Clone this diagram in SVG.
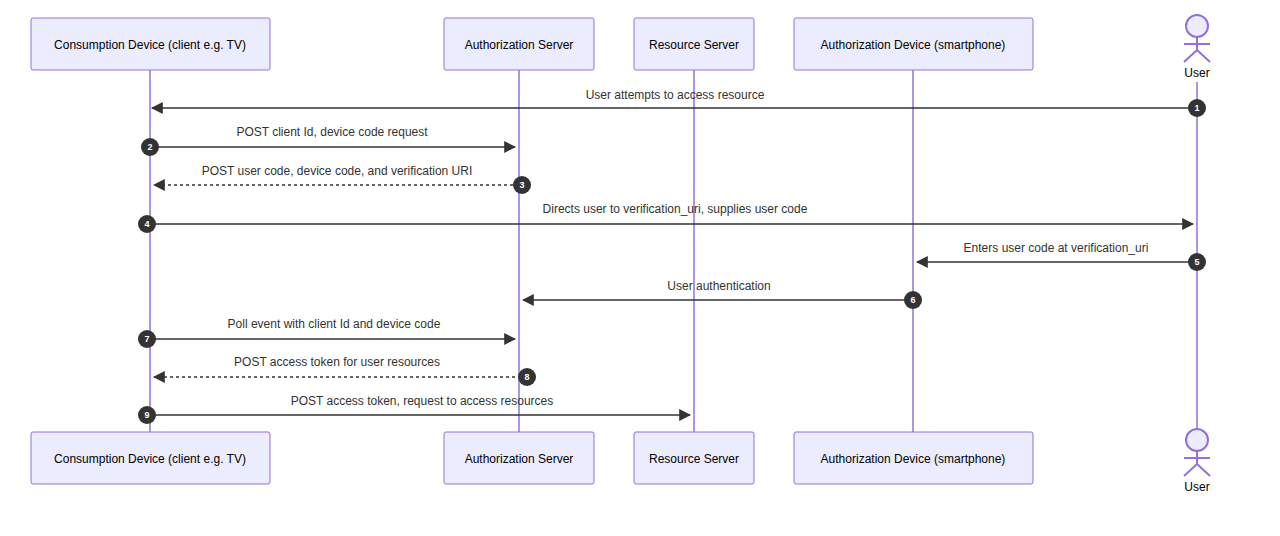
<svg xmlns="http://www.w3.org/2000/svg" width="1280" height="536" viewBox="0 0 1280 536">
<style>
.box{fill:#ECECFF;stroke:#9370DB;stroke-width:1}
.life{stroke:#9370DB;stroke-width:1.5}
.t{font-family:"Liberation Sans",Arial,sans-serif;font-size:12px;fill:#000;text-anchor:middle}
.ml{font-family:"Liberation Sans",Arial,sans-serif;font-size:12px;fill:#333;text-anchor:middle}
.msg{stroke:#333;stroke-width:1.5;fill:none}
.dash{stroke-dasharray:3,3}
.num{fill:#333}
.nt{font-family:"Liberation Sans",Arial,sans-serif;font-size:9px;font-weight:bold;fill:#fff;text-anchor:middle}
.act{fill:#ECECFF;stroke:#9370DB;stroke-width:2}
.actl{stroke:#9370DB;stroke-width:2;fill:none}
</style>
<defs>
<marker id="ah" viewBox="0 0 10 10" refX="9" refY="5" markerWidth="8" markerHeight="8" orient="auto-start-reverse"><path d="M0,0 L10,5 L0,10 z" fill="#333"/></marker>
</defs>
<rect width="1280" height="536" fill="#fff"/>
<g id="lifelines">
<line class="life" x1="150" y1="70" x2="150" y2="432"/>
<line class="life" x1="519" y1="70" x2="519" y2="432"/>
<line class="life" x1="694" y1="70" x2="694" y2="432"/>
<line class="life" x1="913" y1="70" x2="913" y2="432"/>
<line class="life" x1="1197" y1="82" x2="1197" y2="428"/>
</g>
<g id="consumption"><rect class="box" x="31" y="18" width="239" height="52" rx="2"/><text class="t" x="150" y="49">Consumption Device (client e.g. TV)</text>
<rect class="box" x="31" y="432" width="239" height="52" rx="2"/><text class="t" x="150" y="463">Consumption Device (client e.g. TV)</text></g>
<g id="authserver"><rect class="box" x="444" y="18" width="150" height="52" rx="2"/><text class="t" x="519" y="49">Authorization Server</text>
<rect class="box" x="444" y="432" width="150" height="52" rx="2"/><text class="t" x="519" y="463">Authorization Server</text></g>
<g id="resource"><rect class="box" x="634" y="18" width="120" height="52" rx="2"/><text class="t" x="694" y="49">Resource Server</text>
<rect class="box" x="634" y="432" width="120" height="52" rx="2"/><text class="t" x="694" y="463">Resource Server</text></g>
<g id="authdevice"><rect class="box" x="794" y="18" width="239" height="52" rx="2"/><text class="t" x="913" y="49">Authorization Device (smartphone)</text>
<rect class="box" x="794" y="432" width="239" height="52" rx="2"/><text class="t" x="913" y="463">Authorization Device (smartphone)</text></g>
<g id="user">
<circle class="act" cx="1197" cy="26" r="11"/><path class="actl" d="M1197,37 V50 M1184,44 H1210 M1197,50 L1184,62 M1197,50 L1210,62"/><text class="t" x="1197" y="77">User</text>
<circle class="act" cx="1197" cy="440" r="11"/><path class="actl" d="M1197,451 V464 M1184,458 H1210 M1197,464 L1184,476 M1197,464 L1210,476"/><text class="t" x="1197" y="491">User</text>
</g>
<g id="connectors">
<line class="msg" x1="1197" y1="108" x2="152" y2="108" marker-end="url(#ah)"/><text class="ml" x="675" y="99">User attempts to access resource</text>
<line class="msg" x1="150" y1="147" x2="515" y2="147" marker-end="url(#ah)"/><text class="ml" x="332" y="136">POST client Id, device code request</text>
<line class="msg dash" x1="519" y1="185" x2="154" y2="185" marker-end="url(#ah)"/><text class="ml" x="337" y="175">POST user code, device code, and verification URI</text>
<line class="msg" x1="150" y1="224" x2="1193" y2="224" marker-end="url(#ah)"/><text class="ml" x="675" y="213">Directs user to verification_uri, supplies user code</text>
<line class="msg" x1="1197" y1="262" x2="917" y2="262" marker-end="url(#ah)"/><text class="ml" x="1056" y="252">Enters user code at verification_uri</text>
<line class="msg" x1="913" y1="300" x2="523" y2="300" marker-end="url(#ah)"/><text class="ml" x="719" y="290">User authentication</text>
<line class="msg" x1="150" y1="339" x2="515" y2="339" marker-end="url(#ah)"/><text class="ml" x="334" y="328">Poll event with client Id and device code</text>
<line class="msg dash" x1="527" y1="377" x2="154" y2="377" marker-end="url(#ah)"/><text class="ml" x="337" y="366">POST access token for user resources</text>
<line class="msg" x1="150" y1="415" x2="690" y2="415" marker-end="url(#ah)"/><text class="ml" x="422" y="405">POST access token, request to access resources</text>
<g class="nums">
<circle class="num" cx="1197" cy="108" r="9"/><text class="nt" x="1197" y="111">1</text>
<circle class="num" cx="150" cy="147" r="9"/><text class="nt" x="150" y="150">2</text>
<circle class="num" cx="522" cy="185" r="9"/><text class="nt" x="522" y="188">3</text>
<circle class="num" cx="147" cy="224" r="9"/><text class="nt" x="147" y="227">4</text>
<circle class="num" cx="1197" cy="262" r="9"/><text class="nt" x="1197" y="265">5</text>
<circle class="num" cx="913" cy="300" r="9"/><text class="nt" x="913" y="303">6</text>
<circle class="num" cx="147" cy="339" r="9"/><text class="nt" x="147" y="342">7</text>
<circle class="num" cx="527" cy="377" r="9"/><text class="nt" x="527" y="380">8</text>
<circle class="num" cx="147" cy="415" r="9"/><text class="nt" x="147" y="418">9</text>
</g>
</g>
</svg>
